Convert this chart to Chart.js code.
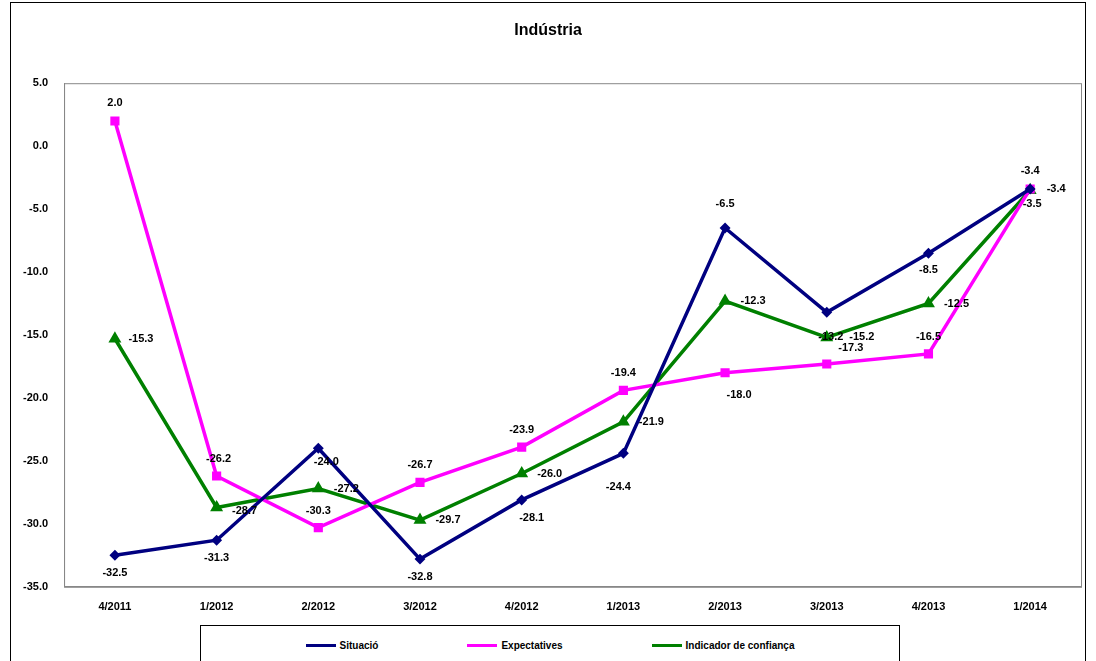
<!DOCTYPE html>
<html><head><meta charset="utf-8">
<script src="https://cdn.jsdelivr.net/npm/chart.js@4"></script>
<style>
body{margin:0;background:#fff;font-family:"Liberation Sans",Arial,sans-serif}
#frame{position:absolute;left:10px;top:2px;width:1074px;height:680px;border:1px solid #000}
#wrap{position:absolute;left:0;top:0;width:1096px;height:620px}
#legend{position:absolute;left:200px;top:625px;width:700px;height:40px;border:1px solid #000;font:bold 10px "Liberation Sans",Arial;display:flex;align-items:center;justify-content:space-around;padding:0 60px;box-sizing:border-box}
#legend span{display:inline-flex;align-items:center}
#legend i{display:inline-block;width:30px;height:3px;margin-right:4px;position:relative}
</style></head><body>
<div id="frame"></div>
<div id="wrap"><canvas id="c"></canvas></div>
<div id="legend"></div>
<script>
const categories = ['4/2011','1/2012','2/2012','3/2012','4/2012','1/2013','2/2013','3/2013','4/2013','1/2014'];
const situacio = [-32.5,-31.3,-24.0,-32.8,-28.1,-24.4,-6.5,-13.2,-8.5,-3.4];
const expectatives = [2.0,-26.2,-30.3,-26.7,-23.9,-19.4,-18.0,-17.3,-16.5,-3.4];
const indicador = [-15.3,-28.7,-27.2,-29.7,-26.0,-21.9,-12.3,-15.2,-12.5,-3.5];

// label offsets per point [dx, dy]
const offSit = [[0,18],[0,18],[8,14],[0,18],[10,18],[-5,34],[0,-24],[4,25],[0,17],[0,-18]];
const offExp = [[0,-18],[2,-17],[0,-17],[0,-17],[0,-17],[0,-17],[14,22],[24,-16],[0,-17],[26,0]];
const offInd = [[26,0],[28,3],[28,0],[28,0],[28,0],[28,0],[28,0],[35,-1],[28,0],[2,14]];

const series = [
  {label:'Situació', data:situacio, color:'#000080', style:'rectRot', r:3, off:offSit},
  {label:'Expectatives', data:expectatives, color:'#ff00ff', style:'rect', r:4, off:offExp},
  {label:'Indicador de confiança', data:indicador, color:'#008000', style:'triangle', r:4, off:offInd}
];

const labelPlugin = {
  id:'pointLabels',
  afterDatasetsDraw(chart){
    const ctx = chart.ctx;
    ctx.save();
    ctx.font = 'bold 11px "Liberation Sans", Arial';
    ctx.fillStyle = '#000';
    ctx.textAlign = 'center';
    ctx.textBaseline = 'middle';
    chart.data.datasets.forEach((ds, i) => {
      chart.getDatasetMeta(i).data.forEach((pt, j) => {
        const o = series[i].off[j];
        ctx.fillText(ds.data[j].toFixed(1), pt.x + o[0], pt.y + o[1]);
      });
    });
    ctx.restore();
  }
};
const borderPlugin = {
  id:'plotBorder',
  afterDraw(chart){
    const a = chart.chartArea, ctx = chart.ctx;
    ctx.save(); ctx.strokeStyle = '#888'; ctx.lineWidth = 1;
    ctx.strokeRect(a.left + .5, a.top + .5, a.right - a.left, a.bottom - a.top);
    ctx.restore();
  }
};

new Chart(document.getElementById('c'), {
  type:'line',
  data:{labels:categories, datasets:series.map(s => ({
    label:s.label, data:s.data, borderColor:s.color, backgroundColor:s.color,
    borderWidth:3.5, pointStyle:s.style, pointRadius:s.r, tension:0
  }))},
  options:{
    responsive:true, maintainAspectRatio:false, animation:false,
    layout:{padding:{left:15,right:15,top:0,bottom:0}},
    plugins:{
      legend:{display:false},
      tooltip:{enabled:false},
      title:{display:true, text:'Indústria', color:'#000', font:{family:'"Liberation Sans", Arial', size:16, weight:'bold'}, padding:{top:21,bottom:43}}
    },
    scales:{
      x:{offset:true, grid:{display:false}, border:{color:'#888'},
         ticks:{color:'#000', font:{family:'"Liberation Sans", Arial', size:11, weight:'bold'}, padding:6}},
      y:{min:-35, max:5, grid:{display:false}, border:{color:'#888'},
         ticks:{stepSize:5, color:'#000', padding:8, callback:v => v.toFixed(1),
                font:{family:'"Liberation Sans", Arial', size:11, weight:'bold'}}}
    }
  },
  plugins:[labelPlugin, borderPlugin]
});

const lg = document.getElementById('legend');
series.forEach(s => {
  const sp = document.createElement('span');
  sp.innerHTML = '<i style="background:' + s.color + '"></i>' + s.label;
  lg.appendChild(sp);
});
</script>
</body></html>
